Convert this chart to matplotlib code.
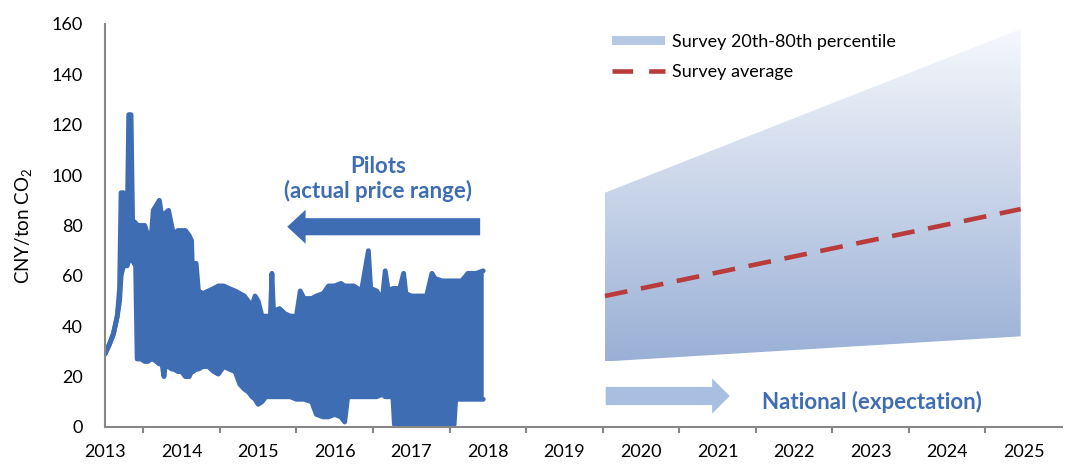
# China carbon price chart: pilot market range vs. national survey expectations

import numpy as np
import matplotlib.pyplot as plt
from matplotlib.colors import LinearSegmentedColormap
from matplotlib.patches import Patch
from matplotlib.lines import Line2D

plt.rcParams['font.family'] = ['Lato', 'DejaVu Sans']
plt.rcParams['mathtext.fontset'] = 'custom'
plt.rcParams['mathtext.rm'] = 'Lato'
plt.rcParams['mathtext.it'] = 'Lato:italic'

# pilot prices (year, high, low)
pilot_year = [2013.00, 2013.06, 2013.11, 2013.16, 2013.19, 2013.21, 2013.24, 2013.26, 2013.29, 2013.31,
              2013.34, 2013.36, 2013.40, 2013.42, 2013.47, 2013.52, 2013.56, 2013.60, 2013.63, 2013.67,
              2013.71, 2013.74, 2013.77, 2013.79, 2013.83, 2013.87, 2013.90, 2013.95, 2014.00, 2014.05,
              2014.10, 2014.13, 2014.15, 2014.19, 2014.22, 2014.28, 2014.35, 2014.42, 2014.48, 2014.55,
              2014.62, 2014.70, 2014.76, 2014.82, 2014.87, 2014.92, 2014.96, 2015.00, 2015.05, 2015.10,
              2015.16, 2015.18, 2015.20, 2015.28, 2015.35, 2015.42, 2015.50, 2015.55, 2015.60, 2015.70,
              2015.76, 2015.85, 2015.92, 2016.00, 2016.08, 2016.13, 2016.17, 2016.25, 2016.35, 2016.44,
              2016.47, 2016.55, 2016.62, 2016.66, 2016.70, 2016.76, 2016.78, 2016.85, 2016.90, 2016.93,
              2017.00, 2017.10, 2017.20, 2017.27, 2017.31, 2017.40, 2017.50, 2017.56, 2017.58, 2017.66,
              2017.74, 2017.85, 2017.94]
pilot_high = [29, 33, 37, 44, 55, 93, 93, 78, 80, 124,
              124, 82, 81, 80, 80, 80, 76, 74, 86, 88,
              90, 84, 83, 85, 86, 80, 76, 78, 78, 78,
              76, 74, 55, 65, 54, 53, 54, 55, 56, 56,
              55, 54, 53, 52, 50, 48, 52, 50, 44, 44,
              44, 61, 46, 47, 45, 44, 44, 54, 51, 51,
              52, 53, 56, 56, 57, 56, 56, 56, 54, 70,
              55, 54, 50, 62, 54, 55, 55, 55, 61, 53,
              52, 52, 52, 61, 59, 58, 58, 58, 58, 58,
              61, 61, 62]
pilot_low = [29, 33, 37, 44, 50, 60, 64, 64, 64, 66,
             68, 66, 64, 27, 27, 26, 26, 27, 27, 26,
             25, 26, 20, 25, 24, 23, 23, 22, 22, 20,
             20, 22, 22, 23, 23, 24, 24, 22, 21, 24,
             23, 22, 17, 15, 14, 12, 11, 9, 10, 12,
             12, 12, 12, 12, 12, 12, 11, 11, 11, 10,
             5, 4, 4, 5, 4, 2, 12, 12, 12, 12,
             12, 12, 13, 12, 12, 12, 1, 1, 1, 1,
             1, 1, 1, 1, 1, 1, 1, 1, 11, 11,
             11, 11, 11]

# national survey
survey_year = [2019.53, 2024.96]
survey_p20 = [26, 36]
survey_p80 = [93, 158]
survey_avg = [52, 86.5]

blue = '#3f6db4'
red = '#b93b3b'
grey = '#878787'

fig = plt.figure(figsize=(10.77, 4.73), dpi=100)
ax = fig.add_axes([0.0975, 0.0973, 0.8886, 0.852])

# survey band with vertical gradient
band = ax.fill_between(survey_year, survey_p20, survey_p80, facecolor='none', edgecolor='none')
grad = LinearSegmentedColormap.from_list('g', ['#9ab0d6', '#f6f8fc'])
img = ax.imshow(np.linspace(0, 1, 256).reshape(-1, 1), cmap=grad, origin='lower', aspect='auto',
                extent=[survey_year[0], survey_year[1], min(survey_p20), max(survey_p80)], zorder=1)
img.set_clip_path(band.get_paths()[0], transform=ax.transData)
ax.plot(survey_year, survey_avg, color=red, lw=3.3, dashes=(5, 3), zorder=3)

# pilot price range
ax.fill_between(pilot_year, pilot_low, pilot_high, color=blue, lw=0, zorder=2)
ax.plot(pilot_year, pilot_high, color=blue, lw=3.5, solid_joinstyle='round', solid_capstyle='round', zorder=2)
ax.plot(pilot_year, pilot_low, color=blue, lw=3.5, solid_joinstyle='round', solid_capstyle='round', zorder=2)

# arrows and labels
ax.arrow(2017.90, 79.5, -2.52, 0, width=6.8, head_width=13.5, head_length=0.24,
         length_includes_head=True, color=blue, lw=0, zorder=4)
ax.arrow(2019.54, 12.3, 1.62, 0, width=7.2, head_width=14, head_length=0.23,
         length_includes_head=True, color='#a9bfe1', lw=0, zorder=4)
ax.text(2016.57, 98.5, 'Pilots\n(actual price range)', ha='center', va='center', color=blue,
        fontsize=16, fontweight='bold', linespacing=1.15)
ax.text(2023.02, 9.9, 'National (expectation)', ha='center', va='center', color=blue,
        fontsize=16, fontweight='bold')

handles = [Patch(facecolor='#b7c8e4', edgecolor='none'),
           Line2D([], [], color=red, lw=3.3, dashes=(4.5, 3.5))]
ax.legend(handles, ['Survey 20th-80th percentile', 'Survey average'], loc='upper left',
          bbox_to_anchor=(0.530, 0.975), frameon=False, fontsize=13, handlelength=2.9,
          handleheight=0.45, handletextpad=0.4, labelspacing=0.75, borderpad=0, borderaxespad=0)

ax.set_xlim(2013, 2025.5)
ax.set_ylim(0, 160)
ax.set_yticks(range(0, 161, 20))
ax.set_xticks(range(2013, 2026))
ax.set_xticks(np.arange(2013.5, 2025, 1), minor=True)
ax.tick_params(axis='x', which='major', length=0, pad=12, labelsize=13)
ax.tick_params(axis='x', which='minor', length=4, width=1.5, color=grey, direction='out')
ax.tick_params(axis='y', length=0, pad=16, labelsize=13)
ax.set_ylabel(r'CNY/ton CO$_2$', fontsize=13.5)
ax.yaxis.set_label_coords(-0.074, 0.5)
for s in ['top', 'right']:
    ax.spines[s].set_visible(False)
for s in ['left', 'bottom']:
    ax.spines[s].set_color(grey)
    ax.spines[s].set_linewidth(1.5)

plt.savefig('out.png', dpi=100)
